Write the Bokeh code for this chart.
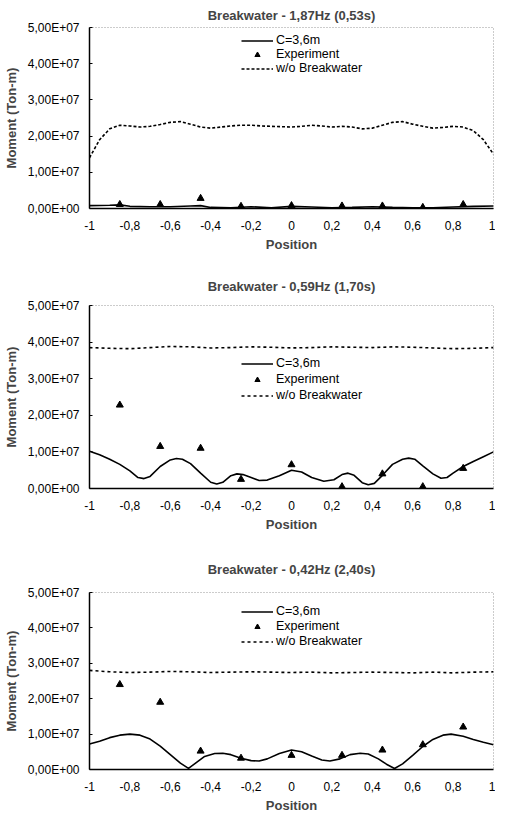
from bokeh.plotting import figure
from bokeh.layouts import column
from bokeh.models import FixedTicker, Legend, LegendItem
from bokeh.embed import file_html
from bokeh.resources import INLINE

# ---------------- data ----------------
titles = ["Breakwater - 1,87Hz (0,53s)", "Breakwater - 0,59Hz (1,70s)", "Breakwater - 0,42Hz (2,40s)"]
series_names = ["C=3,6m", "Experiment", "w/o Breakwater"]

x_ticks = [-1, -0.8, -0.6, -0.4, -0.2, 0, 0.2, 0.4, 0.6, 0.8, 1]
x_tick_labels = ["-1", "-0,8", "-0,6", "-0,4", "-0,2", "0", "0,2", "0,4", "0,6", "0,8", "1"]
y_ticks = [0, 1e7, 2e7, 3e7, 4e7, 5e7]
y_tick_labels = ["0,00E+00", "1,00E+07", "2,00E+07", "3,00E+07", "4,00E+07", "5,00E+07"]

exp_x = [-0.85, -0.65, -0.45, -0.25, 0, 0.25, 0.45, 0.65, 0.85]

# Panel 1 (1.87 Hz)
p1_wo_x = [-1, -0.95, -0.9, -0.85, -0.8, -0.75, -0.7, -0.65, -0.6, -0.55, -0.5, -0.45, -0.4, -0.35, -0.3,
           -0.25, -0.2, -0.15, -0.1, -0.05, 0, 0.05, 0.1, 0.15, 0.2, 0.25, 0.3, 0.35, 0.4, 0.45, 0.5,
           0.55, 0.6, 0.65, 0.7, 0.75, 0.8, 0.85, 0.9, 0.95, 1]
p1_wo_y = [1.4e7, 1.9e7, 2.2e7, 2.3e7, 2.28e7, 2.25e7, 2.27e7, 2.32e7, 2.38e7, 2.4e7, 2.33e7, 2.25e7, 2.22e7,
           2.25e7, 2.28e7, 2.3e7, 2.3e7, 2.28e7, 2.27e7, 2.26e7, 2.25e7, 2.27e7, 2.3e7, 2.28e7, 2.25e7,
           2.27e7, 2.25e7, 2.2e7, 2.22e7, 2.3e7, 2.38e7, 2.4e7, 2.33e7, 2.27e7, 2.22e7, 2.24e7, 2.27e7,
           2.25e7, 2.15e7, 1.9e7, 1.5e7]
p1_c_x = [-1, -0.9, -0.85, -0.8, -0.7, -0.6, -0.5, -0.45, -0.4, -0.3, -0.2, -0.1, 0, 0.1, 0.2, 0.3, 0.4,
          0.5, 0.6, 0.7, 0.8, 0.9, 1]
p1_c_y = [0.8e6, 0.9e6, 1.0e6, 0.6e6, 0.5e6, 0.5e6, 0.7e6, 0.8e6, 0.3e6, 0.2e6, 0.5e6, 0.2e6, 0.6e6, 0.4e6,
          0.2e6, 0.3e6, 0.5e6, 0.3e6, 0.2e6, 0.2e6, 0.4e6, 0.6e6, 0.7e6]
p1_exp = [1.1e6, 1.1e6, 2.8e6, 0.6e6, 0.8e6, 0.7e6, 0.7e6, 0.3e6, 1.1e6]

# Panel 2 (0.59 Hz)
p2_wo_x = [-1, -0.9, -0.8, -0.7, -0.6, -0.5, -0.4, -0.3, -0.2, -0.1, 0, 0.1, 0.2, 0.3, 0.4, 0.5, 0.6,
           0.7, 0.8, 0.9, 1]
p2_wo_y = [3.85e7, 3.83e7, 3.82e7, 3.85e7, 3.88e7, 3.87e7, 3.84e7, 3.85e7, 3.87e7, 3.86e7, 3.84e7,
           3.85e7, 3.87e7, 3.86e7, 3.85e7, 3.87e7, 3.86e7, 3.84e7, 3.82e7, 3.83e7, 3.85e7]
p2_c_x = [-1, -0.95, -0.9, -0.85, -0.8, -0.76, -0.73, -0.7, -0.65, -0.6, -0.57, -0.54, -0.5, -0.45, -0.4,
          -0.37, -0.34, -0.3, -0.27, -0.24, -0.2, -0.16, -0.12, -0.06, 0, 0.05, 0.1, 0.16, 0.21, 0.25,
          0.28, 0.31, 0.35, 0.38, 0.41, 0.45, 0.5, 0.55, 0.58, 0.61, 0.65, 0.7, 0.74, 0.77, 0.8, 0.85,
          0.9, 0.95, 1]
p2_c_y = [1.02e7, 0.92e7, 0.8e7, 0.66e7, 0.48e7, 0.3e7, 0.27e7, 0.33e7, 0.6e7, 0.78e7, 0.82e7, 0.8e7,
          0.68e7, 0.42e7, 0.17e7, 0.12e7, 0.17e7, 0.35e7, 0.4e7, 0.38e7, 0.3e7, 0.22e7, 0.23e7, 0.35e7,
          0.5e7, 0.45e7, 0.3e7, 0.2e7, 0.24e7, 0.38e7, 0.42e7, 0.36e7, 0.16e7, 0.1e7, 0.14e7, 0.36e7,
          0.66e7, 0.8e7, 0.83e7, 0.8e7, 0.62e7, 0.4e7, 0.28e7, 0.3e7, 0.42e7, 0.6e7, 0.74e7, 0.87e7, 1.0e7]
p2_exp = [2.28e7, 1.15e7, 1.1e7, 0.25e7, 0.65e7, 0.05e7, 0.4e7, 0.05e7, 0.55e7]

# Panel 3 (0.42 Hz)
p3_wo_x = [-1, -0.9, -0.8, -0.7, -0.6, -0.5, -0.4, -0.3, -0.2, -0.1, 0, 0.1, 0.2, 0.3, 0.4, 0.5, 0.6,
           0.7, 0.8, 0.9, 1]
p3_wo_y = [2.8e7, 2.76e7, 2.74e7, 2.75e7, 2.77e7, 2.76e7, 2.74e7, 2.75e7, 2.76e7, 2.75e7, 2.74e7,
           2.75e7, 2.73e7, 2.74e7, 2.75e7, 2.74e7, 2.73e7, 2.75e7, 2.73e7, 2.75e7, 2.76e7]
p3_c_x = [-1, -0.95, -0.9, -0.85, -0.8, -0.75, -0.7, -0.65, -0.6, -0.55, -0.51, -0.47, -0.43, -0.38,
          -0.34, -0.3, -0.25, -0.2, -0.16, -0.12, -0.06, 0, 0.05, 0.1, 0.15, 0.19, 0.24, 0.29, 0.34,
          0.38, 0.43, 0.47, 0.51, 0.55, 0.6, 0.65, 0.7, 0.75, 0.79, 0.85, 0.9, 0.95, 1]
p3_c_y = [0.72e7, 0.8e7, 0.9e7, 0.97e7, 1.0e7, 0.97e7, 0.86e7, 0.66e7, 0.42e7, 0.18e7, 0.03e7, 0.2e7,
          0.37e7, 0.45e7, 0.46e7, 0.42e7, 0.32e7, 0.25e7, 0.24e7, 0.3e7, 0.45e7, 0.55e7, 0.5e7, 0.38e7,
          0.27e7, 0.24e7, 0.3e7, 0.42e7, 0.46e7, 0.44e7, 0.3e7, 0.15e7, 0.03e7, 0.16e7, 0.4e7, 0.65e7,
          0.85e7, 0.97e7, 1.0e7, 0.94e7, 0.85e7, 0.77e7, 0.7e7]
p3_exp = [2.4e7, 1.9e7, 0.52e7, 0.32e7, 0.4e7, 0.4e7, 0.55e7, 0.7e7, 1.2e7]

panels = [
    dict(title=titles[0], wo=(p1_wo_x, p1_wo_y), c=(p1_c_x, p1_c_y), exp=p1_exp,
         top=26, bottom=56, frame=182, standoff=10, leg_y=133, spacing=0, dash="3 2"),
    dict(title=titles[1], wo=(p2_wo_x, p2_wo_y), c=(p2_c_x, p2_c_y), exp=p2_exp,
         top=40, bottom=55, frame=184, standoff=24, leg_y=86, spacing=2, dash="3 3"),
    dict(title=titles[2], wo=(p3_wo_x, p3_wo_y), c=(p3_c_x, p3_c_y), exp=p3_exp,
         top=48, bottom=42, frame=182, standoff=32, leg_y=121, spacing=1, dash="3 3"),
]

FONT = "Liberation Sans"
W = 495
LEFT = 88
RIGHT = 2

figs = []
for pn in panels:
    h = pn["top"] + pn["frame"] + pn["bottom"]
    p = figure(width=W, height=h, output_backend="svg", toolbar_location=None,
               x_range=(-1, 1), y_range=(0, 5e7),
               min_border_left=LEFT, min_border_right=RIGHT,
               min_border_top=pn["top"], min_border_bottom=pn["bottom"])
    p.title.text = pn["title"]
    p.title.align = "center"
    p.title.text_font = FONT
    p.title.text_font_size = "13px"
    p.title.text_font_style = "bold"
    p.title.standoff = pn["standoff"]
    p.grid.visible = False
    p.outline_line_color = "#999999"
    p.outline_line_dash = "1 2"
    p.outline_line_width = 1
    p.background_fill_color = "white"
    p.border_fill_color = "white"

    for ax in (p.xaxis[0], p.yaxis[0]):
        ax.axis_line_color = "black"
        ax.axis_line_width = 1.5
        ax.major_label_text_font = FONT
        ax.major_label_text_font_size = "12px"
        ax.major_label_text_color = "black"
        ax.axis_label_text_font = FONT
        ax.axis_label_text_font_size = "13px"
        ax.axis_label_text_font_style = "bold"
        ax.minor_tick_line_color = None

    p.xaxis.ticker = FixedTicker(ticks=x_ticks)
    p.xaxis.major_label_overrides = {t: l for t, l in zip(x_ticks, x_tick_labels)}
    p.xaxis.major_tick_line_color = None
    p.xaxis.major_label_standoff = 6
    p.xaxis.axis_label = "Position"
    p.xaxis.axis_label_standoff = 4

    p.yaxis.ticker = FixedTicker(ticks=y_ticks)
    p.yaxis.major_label_overrides = {t: l for t, l in zip(y_ticks, y_tick_labels)}
    p.yaxis.major_tick_in = 3
    p.yaxis.major_tick_out = 0
    p.yaxis.major_tick_line_color = "black"
    p.yaxis.major_label_standoff = 10
    p.yaxis.axis_label = "Moment (Ton-m)"
    p.yaxis.axis_label_standoff = 6

    r_c = p.line(pn["c"][0], pn["c"][1], line_color="black", line_width=1.6)
    r_exp = p.scatter(exp_x, pn["exp"], marker="triangle", size=7, fill_color="black",
                      line_color="black")
    r_wo = p.line(pn["wo"][0], pn["wo"][1], line_color="black", line_width=1.6, line_dash=pn["dash"])

    legend = Legend(items=[LegendItem(label=series_names[0], renderers=[r_c]),
                           LegendItem(label=series_names[1], renderers=[r_exp]),
                           LegendItem(label=series_names[2], renderers=[r_wo])],
                    location=(152, pn["leg_y"]))
    legend.border_line_color = None
    legend.background_fill_alpha = 0
    legend.padding = 0
    legend.margin = 0
    legend.spacing = pn["spacing"]
    legend.glyph_width = 32
    legend.glyph_height = 13
    legend.label_height = 13
    legend.label_standoff = 3
    legend.label_text_font = FONT
    legend.label_text_font_size = "12.5px"
    legend.label_text_color = "black"
    p.add_layout(legend, "center")
    figs.append(p)

layout = column(*figs, spacing=0)
open("out.html", "w").write(file_html(layout, INLINE))
